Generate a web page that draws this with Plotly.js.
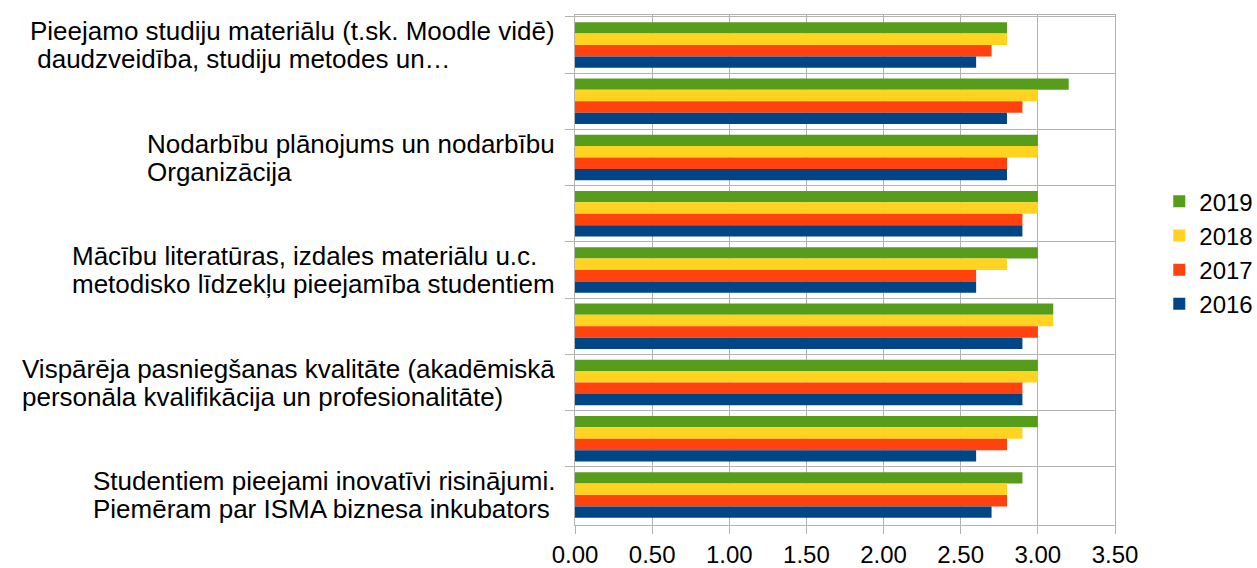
<!DOCTYPE html>
<html><head><meta charset="utf-8">
<script src="https://cdn.plot.ly/plotly-3.0.1.min.js"></script>
<style>html,body{margin:0;padding:0;background:#fff}#chart{width:1257px;height:568px}</style>
</head><body><div id="chart"></div>
<script>
// Category labels, top to bottom ("" = no label shown in the original)
const labels = [
  "Pieejamo studiju materiālu (t.sk. Moodle vidē)|\u00a0daudzveidība, studiju metodes un…",
  "",
  "Nodarbību plānojums un nodarbību|Organizācija",
  "",
  "Mācību literatūras, izdales materiālu u.c.|metodisko līdzekļu pieejamība studentiem",
  "",
  "Vispārēja pasniegšanas kvalitāte (akadēmiskā|personāla kvalifikācija un profesionalitāte)",
  "",
  "Studentiem pieejami inovatīvi risinājumi.|Piemēram par ISMA biznesa inkubators"
];
const categories = labels.map((l, i) => l ? l.replace("|", " ") : "kategorija " + (i + 1));

const years = ["2019", "2018", "2017", "2016"];
const v2019 = [2.8, 3.2, 3.0, 3.0, 3.0, 3.1, 3.0, 3.0, 2.9];
const v2018 = [2.8, 3.0, 3.0, 3.0, 2.8, 3.1, 3.0, 2.9, 2.8];
const v2017 = [2.7, 2.9, 2.8, 2.9, 2.6, 3.0, 2.9, 2.8, 2.8];
const v2016 = [2.6, 2.8, 2.8, 2.9, 2.6, 2.9, 2.9, 2.6, 2.7];
const seriesValues = [v2019, v2018, v2017, v2016];
const colors = ["#579d1c", "#ffd320", "#ff420e", "#004586"];
const xTicks = [0, 0.5, 1, 1.5, 2, 2.5, 3, 3.5];

const font = "Liberation Sans, Arial, sans-serif";
const labelSize = 26;

const traces = years.map((y, k) => ({
  type: "bar", orientation: "h", name: y,
  x: seriesValues[k], y: categories,
  marker: {color: colors[k], line: {width: 0}},
  legendgroup: y, hoverinfo: "x+name"
}));

// measure text so that two-line labels are left-aligned blocks ending next to the axis
const ctx = document.createElement("canvas").getContext("2d");
ctx.font = labelSize + "px 'Liberation Sans'";
const annotations = [];
labels.forEach((l, i) => {
  if (!l) return;
  const lines = l.split("|");
  const w = Math.max(...lines.map(s => ctx.measureText(s).width));
  lines.forEach((s, j) => {
    annotations.push({
      xref: "paper", yref: "y", x: 0, y: categories[i],
      xanchor: "left", yanchor: "middle",
      xshift: -21 - w, yshift: (j === 0 ? 14 : -14),
      align: "left", showarrow: false, text: s, borderpad: 0,
      font: {family: font, size: labelSize, color: "#000"}
    });
  });
});

const layout = {
  width: 1257, height: 568,
  margin: {l: 575, r: 142, t: 15, b: 43, autoexpand: false},
  paper_bgcolor: "#fff", plot_bgcolor: "#fff",
  barmode: "group", bargap: 0.19, bargroupgap: 0,
  font: {family: font, size: 24, color: "#000"},
  showlegend: true,
  legend: {x: 1.082, xanchor: "left", xref: "paper", y: 0.534, yanchor: "middle",
           font: {family: font, size: 24, color: "#000"},
           tracegroupgap: 11, traceorder: "normal", itemwidth: 30},
  xaxis: {range: [0, 3.5], tickvals: xTicks, tickformat: ".2f",
          showgrid: true, gridcolor: "#b3b3b3", gridwidth: 1,
          zeroline: false, showline: true, linecolor: "#b3b3b3", mirror: true,
          ticks: "outside", ticklen: 8, tickcolor: "#b3b3b3",
          tickfont: {family: font, size: 24, color: "#000"}, fixedrange: true},
  yaxis: {type: "category", autorange: "reversed", tickson: "boundaries",
          showgrid: true, gridcolor: "#b3b3b3", gridwidth: 1,
          showline: true, linecolor: "#b3b3b3", mirror: true,
          ticks: "outside", ticklen: 9, tickcolor: "#b3b3b3",
          showticklabels: false, fixedrange: true},
  annotations: annotations
};

Plotly.newPlot("chart", traces, layout, {displayModeBar: false, staticPlot: true});
</script></body></html>
